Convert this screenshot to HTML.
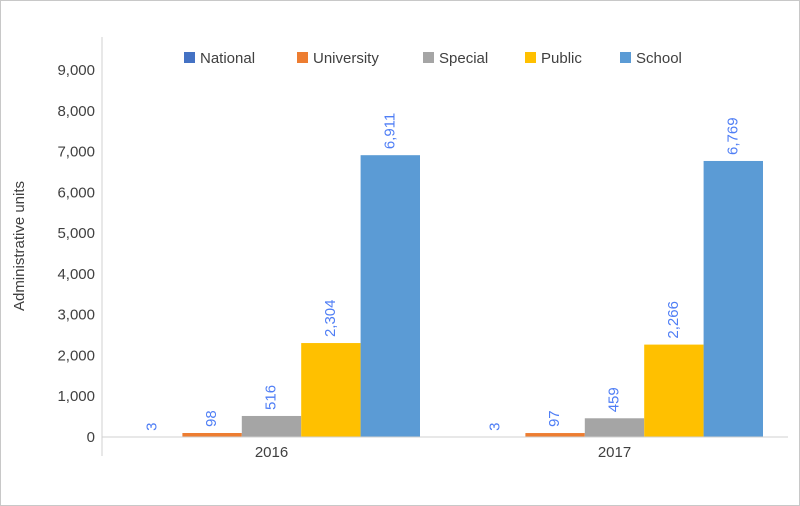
<!DOCTYPE html>
<html><head><meta charset="utf-8"><style>
body{margin:0;background:#fff}
#c{position:absolute;left:0;top:0;width:798px;height:504px;border:1px solid #c8c8c8;background:#fff}
svg{position:absolute;left:0;top:0}
text{font-family:"Liberation Sans",sans-serif}
</style></head><body>
<div id="c"></div>
<svg id="s" width="800" height="506"></svg>
<script>
const categories=["2016","2017"];
const seriesNames=["National","University","Special","Public","School"];
const seriesColors=["#4472c4","#ed7d31","#a5a5a5","#ffc000","#5b9bd5"];
const national=[3,3];
const university=[98,97];
const special=[516,459];
const publicLib=[2304,2266];
const school=[6911,6769];
const yTicks=[0,1000,2000,3000,4000,5000,6000,7000,8000,9000];
const series=[national,university,special,publicLib,school];
const NS="http://www.w3.org/2000/svg";
const s=document.getElementById('s');
const x0=102,x1=788,yBase=437,yTop=70,yMax=9000;
const y=v=>yBase-(v/yMax)*(yBase-yTop);
const catW=(x1-x0)/categories.length;
const barW=59.4;
function el(t,a,p){const e=document.createElementNS(NS,t);for(const k in a)e.setAttribute(k,a[k]);(p||s).appendChild(e);return e;}
const fmt=v=>v.toLocaleString('en-US');
const ax=el('line',{x1:x0,y1:37,x2:x0,y2:456,stroke:'#d0d0d0'});


yTicks.forEach(t=>{
 const tx=el('text',{x:95,y:y(t)+5,'text-anchor':'end','font-size':15,fill:'#404040'});
 tx.textContent=fmt(t);
 
 
});
const yt=el('text',{transform:'translate(24,246) rotate(-90)','text-anchor':'middle','font-size':15,fill:'#404040'});
yt.textContent='Administrative units';


categories.forEach((c,ci)=>{
 const cx=x0+catW*(ci+0.5)-2;
 const gx=cx-barW*series.length/2;
 series.forEach((arr,si)=>{
  const v=arr[ci];const bx=gx+si*barW;
  const r=el('rect',{x:bx,y:y(v),width:barW,height:yBase-y(v),fill:seriesColors[si]});
  
  
  const lx=bx+barW/2+4,ly=y(v)-6;
  const t=el('text',{transform:`translate(${lx},${ly}) rotate(-90)`,'font-size':15,fill:'#4f7ef5'});
  t.textContent=fmt(v);
  
  
 });
 const ct=el('text',{x:cx,y:457,'text-anchor':'middle','font-size':15,fill:'#404040'});
 ct.textContent=c;
 
 
});
const bl=el('line',{x1:x0,y1:yBase,x2:x1,y2:yBase,stroke:'#d0d0d0'});


const lx=[184,297,423,525,620];
seriesNames.forEach((n,i)=>{
 const g=el('g',{});
 
 
 el('rect',{x:lx[i],y:52,width:11,height:11,fill:seriesColors[i]},g);
 const t=el('text',{x:lx[i]+16,y:63,'font-size':15,fill:'#404040'},g);
 t.textContent=n;
});
</script>
</body></html>
